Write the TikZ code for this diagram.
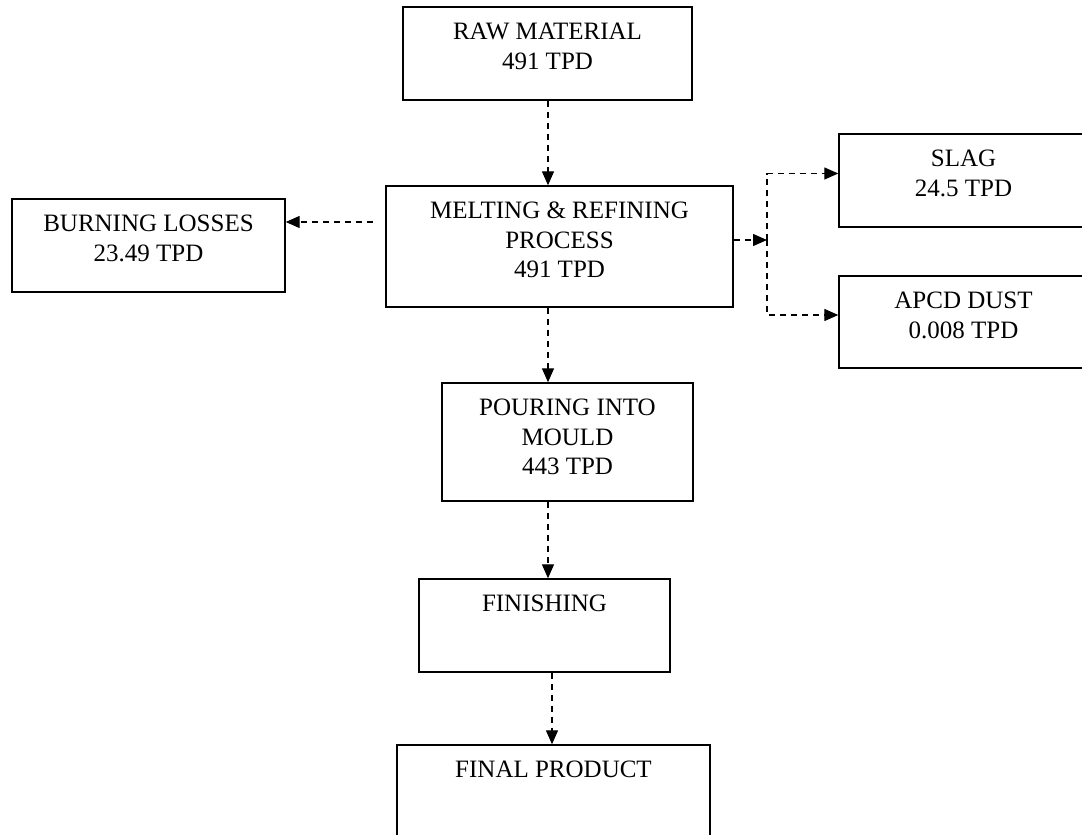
\documentclass[tikz,border=0pt]{standalone}
\usepackage{fontspec}
\setmainfont{Liberation Serif}
\usetikzlibrary{arrows.meta}
\tikzset{
    procbox/.style={draw, line width=1.4pt, inner sep=0pt},
    boxtext/.style={
        anchor=north,
        yshift=-16.5pt,
        inner sep=0pt,
        align=center,
        font=\fontsize{25}{29.5}\selectfont
    },
    flow/.style={
        dash pattern=on 6pt off 5pt,
        line width=1.3pt,
        -{Triangle[length=14pt,width=12pt]}
    }
}
\begin{document}
\begin{tikzpicture}[x=1pt, y=-1pt]
            \useasboundingbox (0,0) rectangle (1082,835);
            \clip (0,0) rectangle (1082,835);
            \coordinate (spine) at (548,0);
            \node[
                procbox,
                minimum width=289pt,
                minimum height=93pt,
                label={[boxtext, name=rawtxt]north:{RAW MATERIAL\\491 TPD}}
            ] (raw) at (547.5,53.5) {};
            \node[
                procbox,
                minimum width=347pt,
                minimum height=121pt,
                label={[boxtext, name=melttxt]north:{MELTING \& REFINING\\PROCESS\\491 TPD}}
            ] (melt) at (559.5,246.5) {};
            \node[
                procbox,
                minimum width=273pt,
                minimum height=93pt,
                label={[boxtext, name=burntxt]north:{BURNING LOSSES\\23.49 TPD}}
            ] (burn) at (148.5,245.5) {};
            \node[
                procbox,
                minimum width=249pt,
                minimum height=93pt,
                label={[boxtext, name=slagtxt]north:{SLAG\\24.5 TPD}}
            ] (slag) at (963.5,180.5) {};
            \node[
                procbox,
                minimum width=249pt,
                minimum height=92pt,
                label={[boxtext, name=apcdtxt]north:{APCD DUST\\0.008 TPD}}
            ] (apcd) at (963.5,322) {};
            \node[
                procbox,
                minimum width=251pt,
                minimum height=118pt,
                label={[boxtext, name=pourtxt]north:{POURING INTO\\MOULD\\443 TPD}}
            ] (pour) at (567.5,442) {};
            \node[
                procbox,
                minimum width=251pt,
                minimum height=93pt,
                label={[boxtext, name=finishtxt]north:{FINISHING}}
            ] (finish) at (544.5,625.5) {};
            \node[
                procbox,
                minimum width=313pt,
                minimum height=135pt,
                label={[boxtext, name=finaltxt]north:{FINAL PRODUCT}}
            ] (final) at (553.5,812.5) {};
            \coordinate (burnstart) at (373,222);
            \coordinate (split) at (767,240);
            \draw[flow] (raw.south -| spine) -- (melt.north -| spine);
            \draw[flow] (burnstart) -- (burnstart -| burn.east);
            \draw[flow] (melt.east |- split) -- (split);
            \draw[flow] (split) |- ([yshift=7pt]slag.west);
            \draw[flow] (split) |- ([yshift=7pt]apcd.west);
            \draw[flow] (melt.south -| spine) -- (pour.north -| spine);
            \draw[flow] (pour.south -| spine) -- (finish.north -| spine);
            \draw[flow] ([xshift=4pt]finish.south -| spine) -- ([xshift=4pt]final.north -| spine);
        \end{tikzpicture}
\end{document}
